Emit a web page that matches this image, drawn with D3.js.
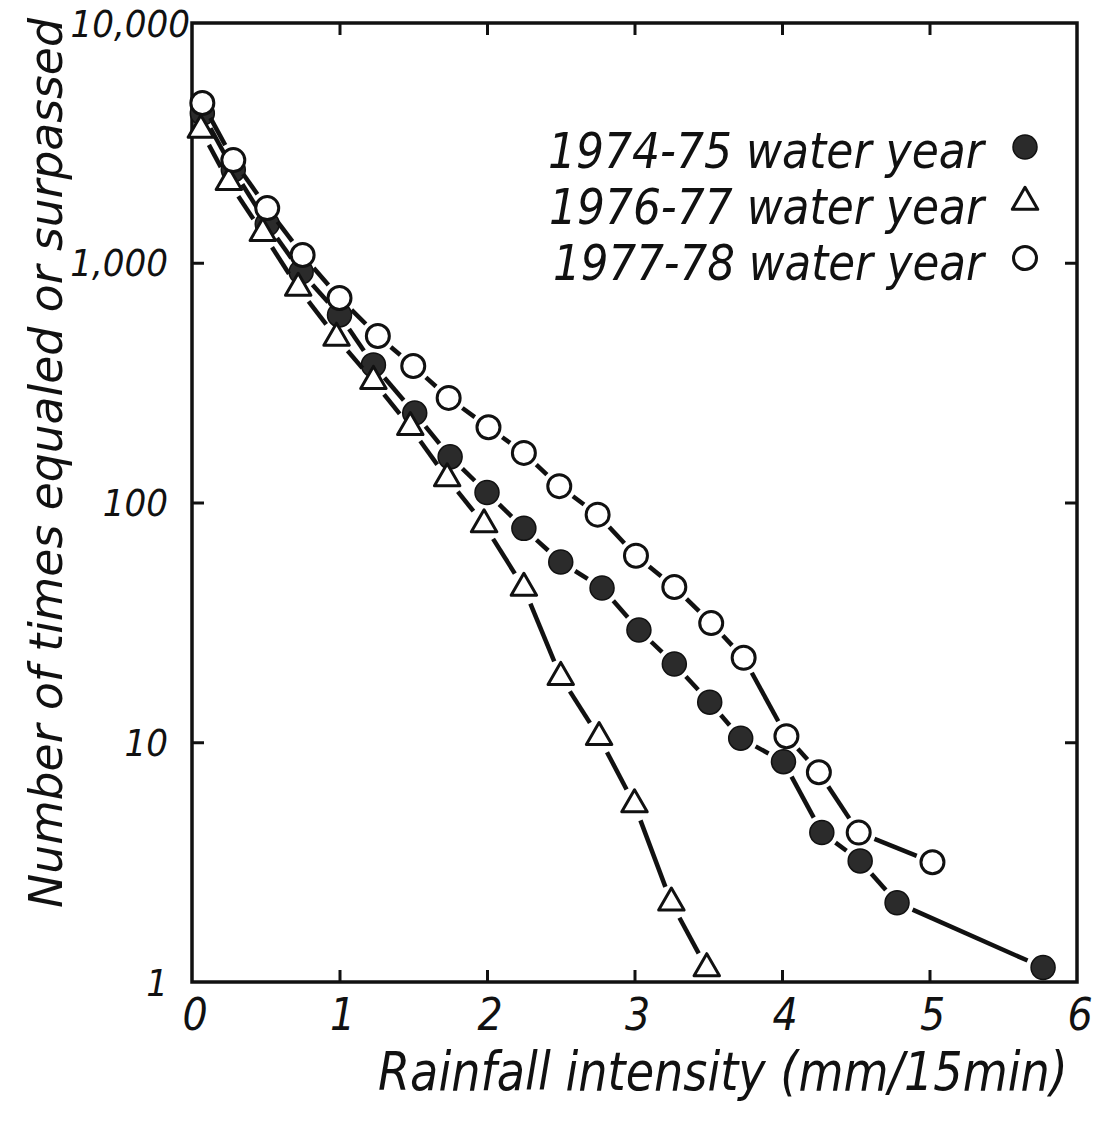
<!DOCTYPE html>
<html>
<head>
<meta charset="utf-8">
<script src="https://cdn.jsdelivr.net/npm/d3@7"></script>
<style>
  body { margin: 0; background: #fff; }
  svg text {
    font-family: "Liberation Sans Narrow", "DejaVu Sans Condensed", "DejaVu Sans", sans-serif;
    font-stretch: condensed;
    font-style: italic;
    font-weight: 400;
    fill: #111;
  }
</style>
</head>
<body>
<div id="chart"></div>
<script>
// series (intensity in mm/15min, count of exceedances)
const intensity7475 = [0.07, 0.28, 0.51, 0.74, 1.0, 1.23, 1.51, 1.75, 2.0, 2.25, 2.5, 2.78, 3.03, 3.27, 3.51, 3.72, 4.01, 4.27, 4.53, 4.78, 5.77];
const count7475 = [4200, 2440, 1450, 915, 606, 375, 236, 155, 110, 78, 56.5, 44, 29.4, 21.2, 14.7, 10.4, 8.3, 4.2, 3.2, 2.14, 1.15];

const intensity7677 = [0.06, 0.25, 0.48, 0.72, 0.98, 1.23, 1.48, 1.73, 1.98, 2.25, 2.5, 2.76, 3.0, 3.25, 3.49];
const count7677 = [3580, 2170, 1330, 785, 486, 321, 206, 126, 81, 44, 18.7, 10.5, 5.5, 2.14, 1.14];

const intensity7778 = [0.07, 0.28, 0.51, 0.75, 1.0, 1.26, 1.5, 1.74, 2.01, 2.25, 2.49, 2.75, 3.01, 3.27, 3.52, 3.74, 4.03, 4.25, 4.52, 5.02];
const count7778 = [4640, 2680, 1690, 1077, 713, 495, 371, 273, 206, 161, 117, 89, 60, 44.4, 31.4, 22.5, 10.6, 7.5, 4.2, 3.16];

const seriesNames = ["1974-75 water year", "1976-77 water year", "1977-78 water year"];
const seriesSymbols = ["filled", "triangle", "open"];

const xTicks = [0, 1, 2, 3, 4, 5, 6];
const yTicks = [1, 10, 100, 1000, 10000];
const yTickLabels = ["1", "10", "100", "1,000", "10,000"];

class ExceedanceChart {
    constructor(parentElement) {
        this.parentElement = parentElement;
        this.initVis();
    }

    initVis() {
        let vis = this;
        vis.width = 1094;
        vis.height = 1129;
        vis.left = 192;
        vis.right = 1077;
        vis.top = 23;
        vis.bottom = 982;

        vis.svg = d3.select("#" + vis.parentElement)
            .append("svg")
            .style("display", "block")
            .attr("width", vis.width)
            .attr("height", vis.height);

        vis.x = d3.scaleLinear().domain([0, 6]).range([vis.left, vis.right]);
        vis.y = d3.scaleLog().domain([1, 10000]).range([vis.bottom, vis.top]);
    }

    // scale a text along its baseline so it spans the given width, keeping its height
    fitText(sel, x, y, width, rotate) {
        const natural = sel.node().getComputedTextLength();
        const k = width / natural;
        sel.attr("transform", rotate
            ? `translate(${x},${y}) rotate(-90) scale(${k},1)`
            : `translate(${x},${y}) scale(${k},1)`);
    }

    render() {
        let vis = this;
        const tickLen = 12;

        // axes with inward ticks on all four sides
        vis.svg.append("g")
            .attr("transform", `translate(0,${vis.bottom})`)
            .call(d3.axisTop(vis.x).tickValues(xTicks.slice(1, -1)).tickSize(tickLen).tickFormat(""));
        vis.svg.append("g")
            .attr("transform", `translate(0,${vis.top})`)
            .call(d3.axisBottom(vis.x).tickValues(xTicks.slice(1, -1)).tickSize(tickLen).tickFormat(""));
        vis.svg.append("g")
            .attr("transform", `translate(${vis.left},0)`)
            .call(d3.axisRight(vis.y).tickValues(yTicks.slice(1, -1)).tickSize(tickLen).tickFormat(""));
        vis.svg.append("g")
            .attr("transform", `translate(${vis.right},0)`)
            .call(d3.axisLeft(vis.y).tickValues(yTicks.slice(1, -1)).tickSize(tickLen).tickFormat(""));
        vis.svg.selectAll("g .domain").remove();
        vis.svg.selectAll("g .tick line").attr("stroke", "#111").attr("stroke-width", 3);

        vis.svg.append("rect")
            .attr("x", vis.left).attr("y", vis.top)
            .attr("width", vis.right - vis.left).attr("height", vis.bottom - vis.top)
            .attr("fill", "none").attr("stroke", "#111").attr("stroke-width", 3.5);

        // tick labels
        vis.svg.selectAll(".xlab")
            .data(xTicks)
            .enter().append("text")
            .attr("class", "xlab")
            .attr("x", d => vis.x(d) + 3)
            .attr("y", 1030)
            .attr("text-anchor", "middle")
            .style("font-size", "44px")
            .text(d => d);

        vis.svg.selectAll(".ylab")
            .data(yTicks)
            .enter().append("text")
            .attr("class", "ylab")
            .attr("x", (d, i) => i === 4 ? 190 : 168)
            .attr("y", d => vis.y(d))
            .attr("dy", "0.36em")
            .attr("text-anchor", "end")
            .style("font-size", "38px")
            .text((d, i) => yTickLabels[i]);

        // axis titles
        const yTitle = vis.svg.append("text")
            .attr("text-anchor", "middle")
            .style("font-size", "46px")
            .text("Number of times equaled or surpassed");
        vis.fitText(yTitle, 62, 463, 890, true);

        const xTitle = vis.svg.append("text")
            .style("font-size", "54px")
            .text("Rainfall intensity (mm/15min)");
        vis.fitText(xTitle, 378, 1090, 690, false);

        // series
        const series = [
            { xs: intensity7475, ys: count7475, symbol: seriesSymbols[0] },
            { xs: intensity7677, ys: count7677, symbol: seriesSymbols[1] },
            { xs: intensity7778, ys: count7778, symbol: seriesSymbols[2] }
        ];

        series.forEach(s => {
            const pts = s.xs.map((v, i) => [vis.x(v), vis.y(s.ys[i])]);
            const segs = d3.pairs(pts).map(([a, b]) => {
                const dx = b[0] - a[0], dy = b[1] - a[1];
                const len = Math.hypot(dx, dy);
                const gap = 17;
                return [a[0] + dx / len * gap, a[1] + dy / len * gap,
                        b[0] - dx / len * gap, b[1] - dy / len * gap, len > 2 * gap];
            }).filter(d => d[4]);

            vis.svg.append("g").selectAll("line")
                .data(segs)
                .enter().append("line")
                .attr("x1", d => d[0]).attr("y1", d => d[1])
                .attr("x2", d => d[2]).attr("y2", d => d[3])
                .attr("stroke", "#111")
                .attr("stroke-width", 4.5)
                .attr("stroke-linecap", "butt");

            vis.drawSymbols(vis.svg.append("g"), pts, s.symbol);
        });

        // legend
        const legendY = [168, 224, 280];
        const legendX = [548, 549, 553];
        const markerY = [147, 202, 258];
        seriesNames.forEach((name, i) => {
            const t = vis.svg.append("text")
                .style("font-size", "50px")
                .text(name);
            vis.fitText(t, legendX[i], legendY[i], 436 - (legendX[i] - 548), false);
            vis.drawSymbols(vis.svg.append("g"), [[1025, markerY[i]]], seriesSymbols[i]);
        });
    }

    drawSymbols(g, pts, symbol) {
        if (symbol === "filled") {
            g.selectAll("circle").data(pts).enter().append("circle")
                .attr("cx", d => d[0]).attr("cy", d => d[1]).attr("r", 12)
                .attr("fill", "#2b2b2b").attr("stroke", "#111").attr("stroke-width", 1.5);
        } else if (symbol === "open") {
            g.selectAll("circle").data(pts).enter().append("circle")
                .attr("cx", d => d[0]).attr("cy", d => d[1]).attr("r", 11.5)
                .attr("fill", "#fff").attr("stroke", "#111").attr("stroke-width", 3);
        } else {
            const tri = d3.symbol().type(d3.symbolTriangle).size(280);
            g.selectAll("path").data(pts).enter().append("path")
                .attr("transform", d => `translate(${d[0]},${d[1]})`)
                .attr("d", tri)
                .attr("fill", "#fff").attr("stroke", "#111").attr("stroke-width", 3)
                .attr("stroke-linejoin", "round");
        }
    }
}

const chart = new ExceedanceChart("chart");
chart.render();
</script>
</body>
</html>
